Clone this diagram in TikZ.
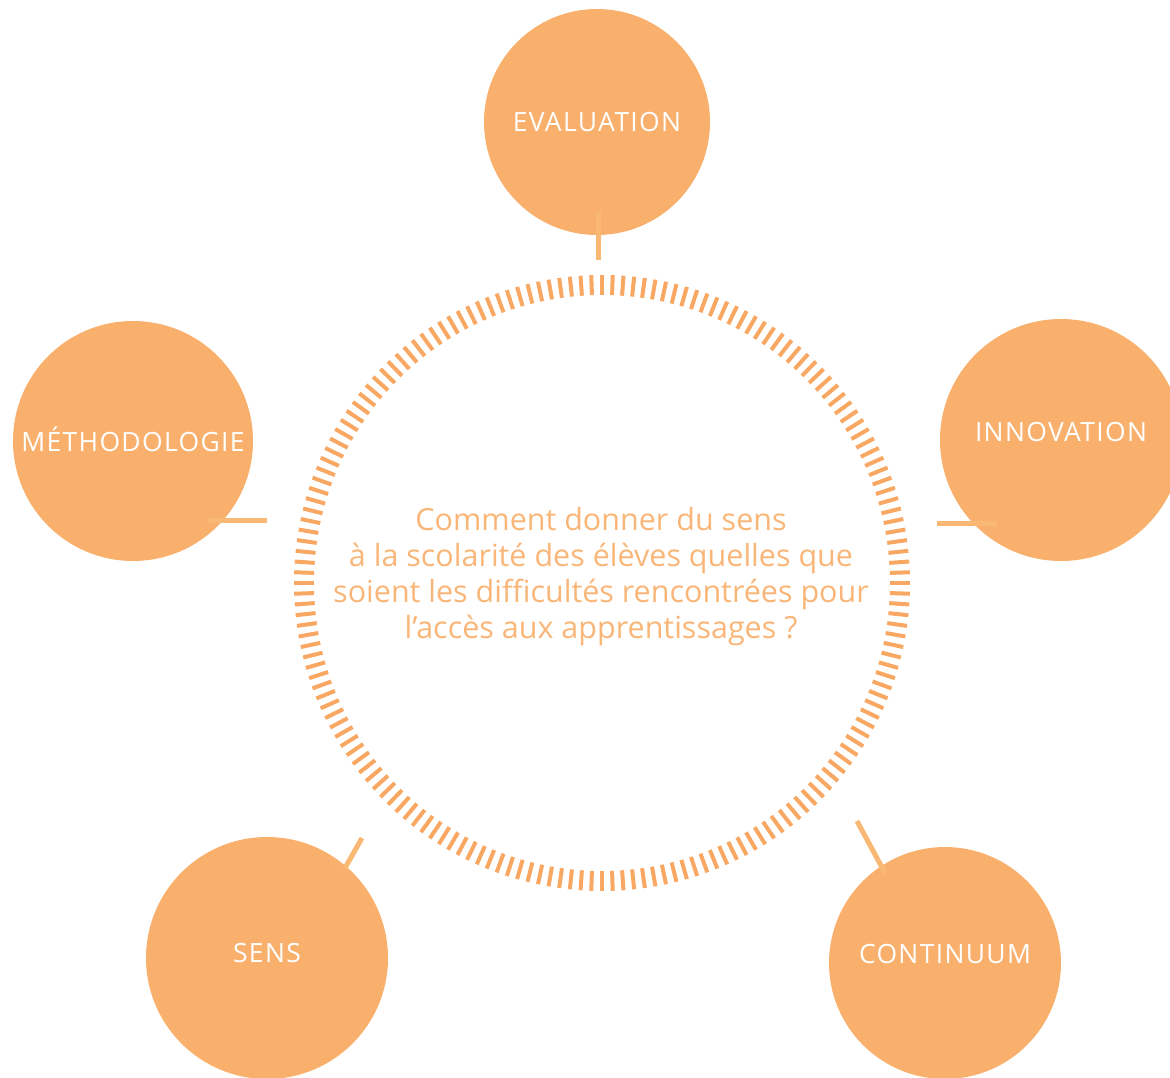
\documentclass[tikz,border=0pt]{standalone}
\usepackage{fontspec}
\setmainfont{Open Sans}
\newfontfamily\capsfont[LetterSpace=5]{Open Sans}
\definecolor{peach}{HTML}{F9B06D}
\definecolor{tickorange}{HTML}{F8A862}
\definecolor{stuborange}{HTML}{F9B874}
\definecolor{asktext}{HTML}{F9B678}

\begin{document}
\begin{tikzpicture}
  [x=1pt, y=-1pt,
   theme/.style={circle, fill=peach, text=white, inner sep=0pt, minimum size=#1,
     font=\capsfont\fontsize{26.5}{30}\selectfont},
   stub/.style={draw=stuborange, line width=5pt},
   tick/.style={draw=tickorange, line width=4pt}]
  \useasboundingbox (0,0) rectangle (1170,1078);

  % the five themes
  \node[theme=226pt] (eval)  at (597,122)  {\raisebox{1pt}{EVALUATION}};
  \node[theme=240pt] (metho) at (133,441)  {\raisebox{4pt}{MÉTHODOLOGIE}};
  \node[theme=242pt] (innov) at (1061,440) {\raisebox{17pt}{INNOVATION}};
  \node[theme=242pt] (sens)  at (267,958)  {\raisebox{11pt}{SENS}};
  \node[theme=232pt] (cont)  at (945,963)  {\raisebox{18pt}{CONTINUUM}};

  % dashed ring round the question
  \foreach \a in {0,2,...,358}
    \draw[tick, shift={(602,583)}] (\a:288) -- (\a:308);
  \node[text=asktext, align=center, font=\fontsize{30.5}{36}\selectfont] (ask) at (601,577)
    {Comment donner du sens\\
     à la scolarité des élèves quelles que\\
     soient les difficultés rencontrées pour\\
     l’accès aux apprentissages ?};

  % stubs
  \coordinate (evalend)  at (598,260);
  \coordinate (methoend) at (267,520);
  \coordinate (innovend) at (937,523);
  \coordinate (sensend)  at (362,838);
  \coordinate (contend)  at (857,821);
  \draw[stub] (eval.center) ++(1,90) -- (evalend);
  \draw[stub] (metho.center) ++(74,79) -- (methoend);
  \draw[stub] (innov.center) ++(-64,83) -- (innovend);
  \draw[stub] (sens.center) ++(78,-90) -- (sensend);
  \draw[stub] (cont.center) ++(-60,-90) -- (contend);
\end{tikzpicture}
\end{document}
